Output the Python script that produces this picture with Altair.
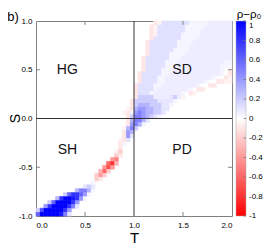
import altair as alt
import pandas as pd

# ---- data -----------------------------------------------------------------
T_STEP = 0.04          # grid cell width in T
S_STEP = 0.04          # grid cell height in S (rows counted from S=1 downwards)

# value code per character: '.' 0, ',' 0.04, 'o' 0.07, '+' 0.12, digits 0.1..0.9,
# X 1, ';' -0.05, a..j -0.1..-1
CODES = {".": 0.0, ",": 0.04, "o": 0.07, "+": 0.12, "X": 1.0, ";": -0.05}
for i, ch in enumerate("123456789"):
    CODES[ch] = (i + 1) / 10
for i, ch in enumerate("abcdefghij"):
    CODES[ch] = -(i + 1) / 10

# (row, first column, codes) — non-zero cells of rho - rho0
SEGMENTS = [
    (0, 30, "a;+++++++,,,,,oooooo"),
    (1, 29, "a;+++++++,,,,,ooooooo"),
    (2, 29, "a;+++++++,,,,oooooooo"),
    (3, 29, "a;++++++,,,,,oooooooo"),
    (4, 29, "a+++++++,,,,ooooooooo"),
    (5, 28, "a+++++++,,,,oooooooooo"),
    (6, 28, "a+++++++,,,ooooooooooo"),
    (7, 28, "a++++++,,,,ooooooooooo"),
    (8, 28, "a+++++,,,,oooooooooooo"),
    (9, 27, "a++++++,,,ooooooooooooo"),
    (10, 27, "a+++++,,,oooooooooooo,,"),
    (11, 27, "a+++++,,,ooooooooooo,,,"),
    (12, 27, "a++++,,,oooooooooooo,.;"),
    (13, 26, "a+++++,,ooooooooooooo,.a"),
    (14, 26, "a++++,,oooooooooooo,..a;"),
    (15, 26, "a++++,,oooooooooo,..aa;;"),
    (16, 25, "a++++,,ooooooooo,..aa"),
    (17, 25, "a++++,oooooooo,.aa"),
    (18, 25, "a+++,ooooooo,.a;"),
    (19, 25, "a2222oooo12o;"),
    (20, 24, "a2222221111,"),
    (21, 24, "a233322211,"),
    (22, 23, ";a344332211"),
    (23, 22, ";a,45433221"),
    (24, 23, "a2554321,"),
    (25, 23, "a35531"),
    (26, 23, "a453,"),
    (27, 22, ";352"),
    (28, 22, "a43"),
    (29, 22, "a41"),
    (30, 21, ";a1"),
    (31, 21, "a,"),
    (32, 21, "a"),
    (33, 20, ";b"),
    (34, 20, "ba"),
    (35, 19, "de"),
    (36, 18, "fhc"),
    (37, 17, "dgd"),
    (38, 16, "cfb"),
    (39, 15, "bdb"),
    (40, 15, "ba"),
    (41, 14, ","),
    (42, 12, "121"),
    (43, 10, "3553,"),
    (44, 7, "268864,"),
    (45, 5, "38XX984,"),
    (46, 3, "26XXXX84"),
    (47, 2, "48XXXX851"),
    (48, 0, "27XXXXX84"),
    (49, 0, "6XXXXX951"),
]

X_TICKS = [0, 0.5, 1, 1.5, 2]
Y_TICKS = [-1, -0.5, 0, 0.5, 1]
CB_TICKS = [-1, -0.8, -0.6, -0.4, -0.2, 0, 0.2, 0.4, 0.6, 0.8, 1]
CB_LABELS = ["-1", "-0.8", "-0.6", "-0.4", "-0.2", "0", "0.2", "0.4", "0.6", "0.8", "1"]
QUAD_T = [0.32, 1.49, 0.32, 1.49]
QUAD_S = [0.5, 0.5, -0.32, -0.32]
QUAD_LABELS = ["HG", "SD", "SH", "PD"]

# ---- build tables ----------------------------------------------------------
cells = []
for row, col, codes in SEGMENTS:
    for i, ch in enumerate(codes):
        v = CODES[ch]
        if v == 0:
            continue
        c = col + i
        cells.append({
            "t0": round(c * T_STEP, 4), "t1": round((c + 1) * T_STEP, 4),
            "s1": round(1 - row * S_STEP, 4), "s0": round(1 - (row + 1) * S_STEP, 4),
            "v": v,
        })
heat_df = pd.DataFrame(cells)

ticks_df = pd.DataFrame(
    [{"t0": t, "t1": t, "s0": -1, "s1": -0.96} for t in [0.5, 1.5]]
    + [{"t0": t, "t1": t, "s0": 1, "s1": 0.96} for t in [0.5, 1.5]]
    + [{"t0": 0, "t1": 0.04, "s0": s, "s1": s} for s in [-0.5, 0.5]]
    + [{"t0": 2, "t1": 1.96, "s0": s, "s1": s} for s in [-0.5, 0.5]]
)
quad_df = pd.DataFrame({"t0": QUAD_T, "s0": QUAD_S, "label": QUAD_LABELS})
cb_df = pd.DataFrame({"s0": CB_TICKS, "label": CB_LABELS})

FONT = "Liberation Sans"
HYPHEN = "replace(datum.label, '\u2212', '-')"
C_NEG, C_MID, C_POS = "#ff0000", "#ffffff", "#0000ff"

XS = alt.Scale(domain=[0, 2], nice=False, zero=False)
YS = alt.Scale(domain=[-1, 1], nice=False, zero=False)
XA = alt.Axis(values=X_TICKS, labelExpr=HYPHEN, labelPadding=5,
              titleFontSize=15, titleFontWeight="normal",
              titleY=26, titleBaseline="alphabetic")
YA = alt.Axis(values=Y_TICKS, labelExpr=HYPHEN, labelPadding=4, titleFontSize=14,
              titleFontWeight="normal", titleAngle=270, titleX=-21, titleY=97,
              titleBaseline="middle", titleAlign="center")


def X(f):
    return alt.X(f, type="quantitative", scale=XS, axis=XA, title="T")


def Y(f):
    return alt.Y(f, type="quantitative", scale=YS, axis=YA, title="S")


cscale = alt.Scale(domain=[-1, 0, 1], range=[C_NEG, C_MID, C_POS], interpolate="rgb")

heat = alt.Chart(heat_df).mark_rect().encode(
    x=X("t0"), x2="t1", y=Y("s0"), y2="s1",
    color=alt.Color("v:Q", scale=cscale, legend=None),
)
seams = alt.Chart(heat_df).mark_rect(filled=False, strokeWidth=0.6).encode(
    x=X("t0"), x2="t1", y=Y("s0"), y2="s1",
    stroke=alt.Stroke("v:Q", scale=cscale, legend=None),
)

vline = alt.Chart(pd.DataFrame({"t0": [1]})).mark_rule(color="#333333", strokeWidth=1).encode(
    x=X("t0"))
hline = alt.Chart(pd.DataFrame({"s0": [0]})).mark_rule(color="#333333", strokeWidth=1).encode(
    y=Y("s0"))
ticks = alt.Chart(ticks_df).mark_rule(color="#808080", strokeWidth=1).encode(
    x=X("t0"), x2="t1", y=Y("s0"), y2="s1")
quads = alt.Chart(quad_df).mark_text(fontSize=14, font=FONT, color="#111111").encode(
    x=X("t0"), y=Y("s0"), text="label:N")
panel = alt.Chart(pd.DataFrame({"label": ["b)"]})).mark_text(
    fontSize=13, font=FONT, color="#000000").encode(
    x=alt.value(-23), y=alt.value(-4), text="label:N")
cbtitle = alt.Chart(pd.DataFrame({"label": ["ρ−ρ₀"]})).mark_text(
    fontSize=11.5, font=FONT, color="#000000").encode(
    x=alt.value(213), y=alt.value(-6.4), text="label:N")

# colour bar: shares the vertical scale, since both span -1..1
grad = alt.LinearGradient(
    gradient="linear", x1=0, x2=0, y1=1, y2=0,
    stops=[alt.GradientStop(color=C_NEG, offset=0),
           alt.GradientStop(color=C_MID, offset=0.5),
           alt.GradientStop(color=C_POS, offset=1)])
cbar = alt.Chart(pd.DataFrame({"s0": [1], "s1": [-1]})).mark_rect(
    color=grad, stroke="#aaaaaa", strokeWidth=0.5).encode(
    x=alt.value(200), x2=alt.value(210), y=Y("s0"), y2="s1")
cbticks = alt.Chart(cb_df).mark_rule(color="#777777", strokeWidth=0.8).encode(
    x=alt.value(207.5), x2=alt.value(210), y=Y("s0"))
cblabels = alt.Chart(cb_df.iloc[:-1]).mark_text(
    fontSize=8, font=FONT, color="#000000", align="left", baseline="middle").encode(
    x=alt.value(213), y=Y("s0"), text="label:N")
cbtop = alt.Chart(cb_df.iloc[-1:]).mark_text(
    fontSize=8, font=FONT, color="#000000", align="left", baseline="top", dy=1).encode(
    x=alt.value(213), y=Y("s0"), text="label:N")

chart = alt.layer(seams, heat, vline, hline, ticks, quads, panel, cbtitle,
                  cbar, cbticks, cblabels, cbtop).properties(
    width=196, height=195,
    autosize=alt.AutoSizeParams(type="none"),
    padding={"left": 28, "top": 13, "right": 33, "bottom": 30},
).configure_view(stroke="#808080", strokeWidth=1).configure_axis(
    grid=False, domain=False, ticks=False, labelFont=FONT, titleFont=FONT,
    labelFontSize=8, labelColor="#000000", titleColor="#000000",
)

chart.save("out.html", embed_options={"renderer": "svg", "actions": False})
